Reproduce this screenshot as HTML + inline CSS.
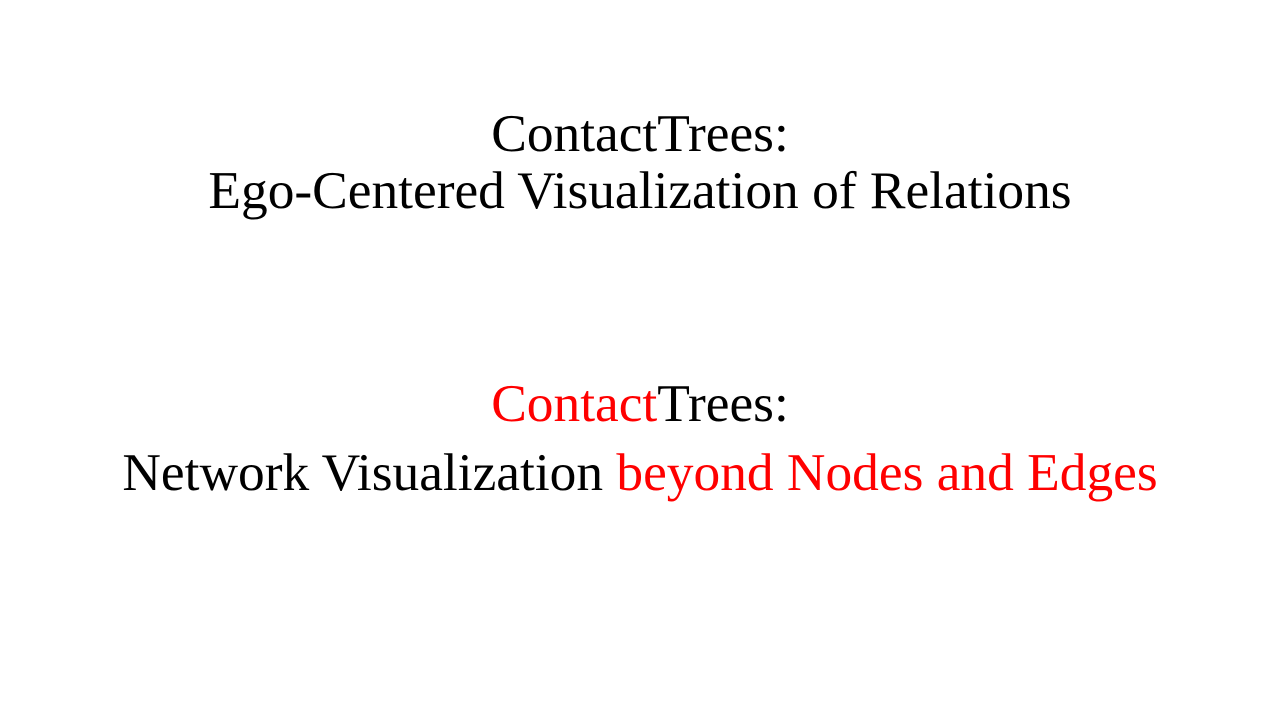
<!DOCTYPE html>
<html><head><meta charset="utf-8"><style>
body{margin:0;width:1280px;height:720px;background:#fff;position:relative;overflow:hidden;font-family:"Liberation Serif",serif;font-size:53.4px;color:#000}
.l{position:absolute;left:0;width:1280px;text-align:center;line-height:53px;white-space:nowrap}
.r{color:#ff0000}
</style></head><body>
<div class="l" style="top:107px">ContactTrees:</div>
<div class="l" style="top:164px">Ego-Centered Visualization of Relations</div>
<div class="l" style="top:377px"><span class="r">Contact</span>Trees:</div>
<div class="l" style="top:446px">Network Visualization <span class="r">beyond Nodes and Edges</span></div>
</body></html>
